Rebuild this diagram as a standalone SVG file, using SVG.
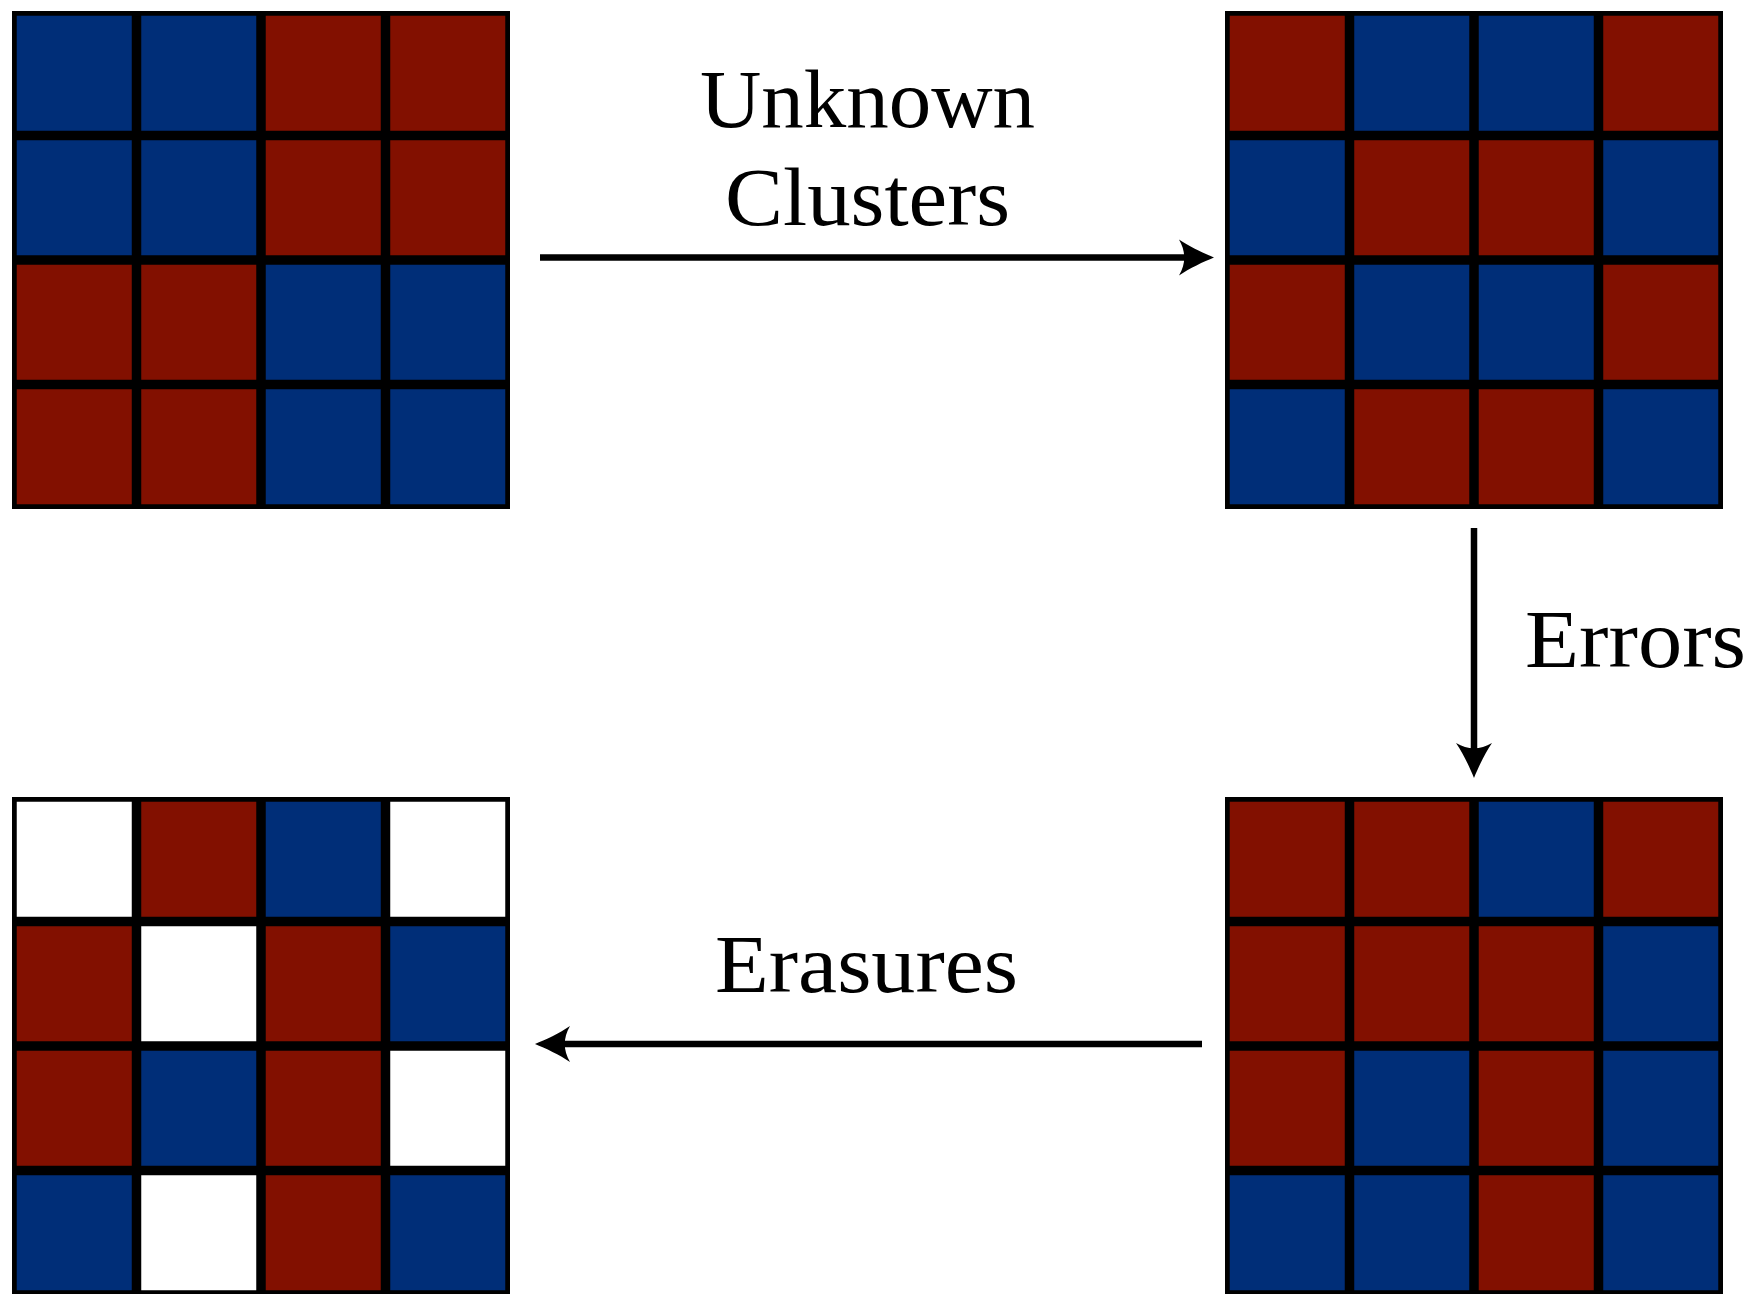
<svg xmlns="http://www.w3.org/2000/svg" width="1753" height="1294" viewBox="0 0 1753 1294">
<style>
.frame{fill:#000}
.b{fill:#002E78}
.r{fill:#821000}
.w{fill:#fff}
.lbl{font-family:"Liberation Serif","DejaVu Serif",serif;font-size:83px;fill:#000;text-anchor:middle}
.edge{stroke:#000;stroke-width:6.5;fill:none}
</style>
<defs>
<marker id="ah" markerUnits="userSpaceOnUse" viewBox="-37 -20 38 40" refX="-20" refY="0" markerWidth="38" markerHeight="40" orient="auto">
<path d="M0,0 C-10,-4 -25,-11 -35,-18 C-28,-6 -28,6 -35,18 C-25,11 -10,4 0,0 Z" fill="#000"/>
</marker>
</defs>
<rect width="1753" height="1294" fill="#fff"/>
<g id="grid-top-left">
<rect class="frame" x="12" y="11" width="498" height="498"/>
<rect class="b" x="16.75" y="15.75" width="115" height="115"/>
<rect class="b" x="141.25" y="15.75" width="115" height="115"/>
<rect class="r" x="265.75" y="15.75" width="115" height="115"/>
<rect class="r" x="390.25" y="15.75" width="115" height="115"/>
<rect class="b" x="16.75" y="140.25" width="115" height="115"/>
<rect class="b" x="141.25" y="140.25" width="115" height="115"/>
<rect class="r" x="265.75" y="140.25" width="115" height="115"/>
<rect class="r" x="390.25" y="140.25" width="115" height="115"/>
<rect class="r" x="16.75" y="264.75" width="115" height="115"/>
<rect class="r" x="141.25" y="264.75" width="115" height="115"/>
<rect class="b" x="265.75" y="264.75" width="115" height="115"/>
<rect class="b" x="390.25" y="264.75" width="115" height="115"/>
<rect class="r" x="16.75" y="389.25" width="115" height="115"/>
<rect class="r" x="141.25" y="389.25" width="115" height="115"/>
<rect class="b" x="265.75" y="389.25" width="115" height="115"/>
<rect class="b" x="390.25" y="389.25" width="115" height="115"/>
</g>
<g id="grid-top-right">
<rect class="frame" x="1225" y="11" width="498" height="498"/>
<rect class="r" x="1229.75" y="15.75" width="115" height="115"/>
<rect class="b" x="1354.25" y="15.75" width="115" height="115"/>
<rect class="b" x="1478.75" y="15.75" width="115" height="115"/>
<rect class="r" x="1603.25" y="15.75" width="115" height="115"/>
<rect class="b" x="1229.75" y="140.25" width="115" height="115"/>
<rect class="r" x="1354.25" y="140.25" width="115" height="115"/>
<rect class="r" x="1478.75" y="140.25" width="115" height="115"/>
<rect class="b" x="1603.25" y="140.25" width="115" height="115"/>
<rect class="r" x="1229.75" y="264.75" width="115" height="115"/>
<rect class="b" x="1354.25" y="264.75" width="115" height="115"/>
<rect class="b" x="1478.75" y="264.75" width="115" height="115"/>
<rect class="r" x="1603.25" y="264.75" width="115" height="115"/>
<rect class="b" x="1229.75" y="389.25" width="115" height="115"/>
<rect class="r" x="1354.25" y="389.25" width="115" height="115"/>
<rect class="r" x="1478.75" y="389.25" width="115" height="115"/>
<rect class="b" x="1603.25" y="389.25" width="115" height="115"/>
</g>
<g id="grid-bottom-right">
<rect class="frame" x="1225" y="797" width="498" height="498"/>
<rect class="r" x="1229.75" y="801.75" width="115" height="115"/>
<rect class="r" x="1354.25" y="801.75" width="115" height="115"/>
<rect class="b" x="1478.75" y="801.75" width="115" height="115"/>
<rect class="r" x="1603.25" y="801.75" width="115" height="115"/>
<rect class="r" x="1229.75" y="926.25" width="115" height="115"/>
<rect class="r" x="1354.25" y="926.25" width="115" height="115"/>
<rect class="r" x="1478.75" y="926.25" width="115" height="115"/>
<rect class="b" x="1603.25" y="926.25" width="115" height="115"/>
<rect class="r" x="1229.75" y="1050.75" width="115" height="115"/>
<rect class="b" x="1354.25" y="1050.75" width="115" height="115"/>
<rect class="r" x="1478.75" y="1050.75" width="115" height="115"/>
<rect class="b" x="1603.25" y="1050.75" width="115" height="115"/>
<rect class="b" x="1229.75" y="1175.25" width="115" height="115"/>
<rect class="b" x="1354.25" y="1175.25" width="115" height="115"/>
<rect class="r" x="1478.75" y="1175.25" width="115" height="115"/>
<rect class="b" x="1603.25" y="1175.25" width="115" height="115"/>
</g>
<g id="grid-bottom-left">
<rect class="frame" x="12" y="797" width="498" height="498"/>
<rect class="w" x="16.75" y="801.75" width="115" height="115"/>
<rect class="r" x="141.25" y="801.75" width="115" height="115"/>
<rect class="b" x="265.75" y="801.75" width="115" height="115"/>
<rect class="w" x="390.25" y="801.75" width="115" height="115"/>
<rect class="r" x="16.75" y="926.25" width="115" height="115"/>
<rect class="w" x="141.25" y="926.25" width="115" height="115"/>
<rect class="r" x="265.75" y="926.25" width="115" height="115"/>
<rect class="b" x="390.25" y="926.25" width="115" height="115"/>
<rect class="r" x="16.75" y="1050.75" width="115" height="115"/>
<rect class="b" x="141.25" y="1050.75" width="115" height="115"/>
<rect class="r" x="265.75" y="1050.75" width="115" height="115"/>
<rect class="w" x="390.25" y="1050.75" width="115" height="115"/>
<rect class="b" x="16.75" y="1175.25" width="115" height="115"/>
<rect class="w" x="141.25" y="1175.25" width="115" height="115"/>
<rect class="r" x="265.75" y="1175.25" width="115" height="115"/>
<rect class="b" x="390.25" y="1175.25" width="115" height="115"/>
</g>
<g id="connectors">
<path class="edge" d="M540,257.5 H1194" marker-end="url(#ah)"/>
<path class="edge" d="M1474,528 V758" marker-end="url(#ah)"/>
<path class="edge" d="M1202,1044 H555" marker-end="url(#ah)"/>
</g>
<g id="labels">
<text class="lbl" x="867.5" y="127" textLength="335" lengthAdjust="spacingAndGlyphs">Unknown</text>
<text class="lbl" x="867.5" y="225" textLength="285" lengthAdjust="spacingAndGlyphs">Clusters</text>
<text class="lbl" x="1635.5" y="667" textLength="221" lengthAdjust="spacingAndGlyphs">Errors</text>
<text class="lbl" x="866.5" y="991.5" textLength="303" lengthAdjust="spacingAndGlyphs">Erasures</text>
</g>
</svg>
